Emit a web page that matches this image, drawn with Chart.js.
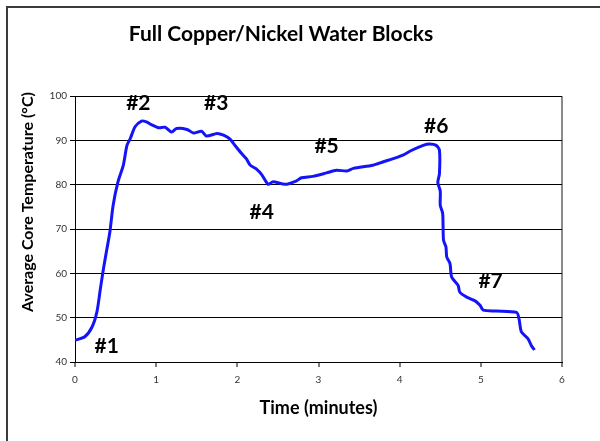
<!DOCTYPE html>
<html>
<head>
<meta charset="utf-8">
<script src="https://cdn.jsdelivr.net/npm/chart.js@4"></script>
<style>
  html, body { margin:0; padding:0; background:#fff; }
  #wrap { position:relative; width:600px; height:441px; }
  #frame {
    position:absolute; left:6px; top:6px; right:-4px; bottom:-4px;
    border-left:2px solid #3c3c3c; border-top:2px solid #3c3c3c;
    pointer-events:none;
  }
</style>
</head>
<body>
<div id="wrap">
  <canvas id="tempChart" width="600" height="441"></canvas>
  <div id="frame"></div>
</div>
<script>

// Time (minutes) and average core temperature (°C)

const timeValues = [
    0, 0.12, 0.21, 0.27, 0.31, 0.35, 0.39, 0.43, 0.47, 0.53,
    0.595, 0.64, 0.68, 0.74, 0.82, 0.88, 0.94, 1.03, 1.11, 1.19,
    1.25, 1.38, 1.46, 1.56, 1.62, 1.75, 1.83, 1.91, 1.97, 2.05,
    2.11, 2.16, 2.24, 2.30, 2.38, 2.44, 2.59, 2.73, 2.79, 2.93,
    3.10, 3.22, 3.35, 3.43, 3.67, 3.80, 3.92, 4.04, 4.15, 4.29,
    4.37, 4.45, 4.49, 4.49, 4.47, 4.50, 4.50, 4.53, 4.54, 4.57,
    4.58, 4.62, 4.64, 4.72, 4.74, 4.82, 4.93, 4.99, 5.03, 5.19,
    5.44, 5.47, 5.50, 5.58, 5.62, 5.66
];

const tempValues = [
    44.9, 45.7, 47.9, 51.3, 56.2, 61.0, 65.2, 69.4, 75.4, 80.7,
    84.4, 88.9, 90.4, 93.1, 94.4, 94.2, 93.6, 92.9, 93.0, 91.9,
    92.7, 92.5, 91.7, 92.1, 91.0, 91.6, 91.2, 90.3, 88.9, 87.1,
    85.9, 84.4, 83.5, 82.3, 80.1, 80.7, 80.1, 80.9, 81.6, 81.9,
    82.7, 83.3, 83.1, 83.7, 84.4, 85.2, 85.9, 86.7, 87.8, 88.9,
    89.2, 88.9, 87.8, 82.5, 80.5, 78.6, 75.4, 73.5, 67.5, 66.0,
    63.7, 62.2, 59.2, 57.3, 55.8, 54.7, 53.8, 52.8, 51.7, 51.5,
    51.2, 49.8, 46.8, 45.3, 43.8, 42.7
];

// Phase markers (#1..#7) placed in data units

const markerLabels = ["#1", "#2", "#3", "#4", "#5", "#6", "#7"];
const markerTimes  = [0.39, 0.78, 1.74, 2.30, 3.10, 4.45, 5.12];
const markerTemps  = [43.6, 98.4, 98.4, 73.8, 88.7, 93.2, 58.2];

const xTicks = [0, 1, 2, 3, 4, 5, 6];
const yTicks = [40, 50, 60, 70, 80, 90, 100];

const FONT = "Lato, 'Open Sans', sans-serif";

const markerPlugin = {
    id: "markers",
    afterDatasetsDraw(chart){
        const ctx = chart.ctx;
        const xs = chart.scales.x;
        const ys = chart.scales.y;
        ctx.save();
        ctx.font = "bold 21px " + FONT;
        ctx.fillStyle = "#000";
        ctx.textAlign = "center";
        ctx.textBaseline = "middle";
        markerLabels.forEach((t, i) => {
            ctx.fillText(
                t,
                xs.getPixelForValue(markerTimes[i]),
                ys.getPixelForValue(markerTemps[i])
            );
        });
        ctx.restore();
    },
    afterDraw(chart){
        // y axis title sits a bit above the plot middle, as in the original
        const ctx = chart.ctx;
        ctx.save();
        ctx.translate(28, 202);
        ctx.rotate(-Math.PI / 2);
        ctx.font = "bold 16px " + FONT;
        ctx.fillStyle = "#000";
        ctx.textAlign = "center";
        ctx.textBaseline = "middle";
        ctx.fillText("Average Core Temperature (°C)", 0, 0);
        ctx.restore();
    }
};

new Chart(

    document.getElementById("tempChart"),

    {
        type: "line",

        data: {
            datasets: [{
                label: "Core temperature",
                data: timeValues.map((t, i) => ({ x: t, y: tempValues[i] })),
                borderColor: "#1414F8",
                borderWidth: 3,
                pointRadius: 0,
                tension: 0.25,
                fill: false
            }]
        },

        plugins: [markerPlugin],

        options: {
            responsive: false,
            animation: false,
            layout: {
                padding: { left: 0, right: 38, top: 0, bottom: 0 }
            },
            plugins: {
                legend: { display: false },
                tooltip: { enabled: false },
                title: {
                    display: true,
                    text: "Full Copper/Nickel Water Blocks",
                    color: "#000",
                    font: { family: FONT, size: 21, weight: "bold" },
                    padding: { top: 22, bottom: 49 }
                }
            },
            scales: {
                x: {
                    type: "linear",
                    min: 0,
                    max: 6,
                    afterBuildTicks: s => { s.ticks = xTicks.map(v => ({ value: v })); },
                    afterFit: s => { s.height = 79; },
                    grid: {
                        drawOnChartArea: true,
                        color: c => c.tick && c.tick.value === 6 ? "#8a8a8a" : "rgba(0,0,0,0)",
                        lineWidth: 2,
                        tickColor: "#000",
                        tickLength: 5,
                        tickWidth: 1
                    },
                    border: { color: "#000", width: 1 },
                    ticks: {
                        color: "#333",
                        padding: 7,
                        maxRotation: 0,
                        font: { family: FONT, size: 10 }
                    },
                    title: {
                        display: true,
                        text: "Time (minutes)",
                        color: "#000",
                        font: { family: FONT, size: 18, weight: "bold" },
                        padding: { top: 0, bottom: 22 }
                    }
                },
                y: {
                    min: 40,
                    max: 100,
                    afterBuildTicks: s => { s.ticks = yTicks.map(v => ({ value: v })); },
                    afterFit: s => { s.width = 75; },
                    grid: {
                        color: "#000",
                        lineWidth: 1,
                        tickLength: 5
                    },
                    border: { color: "#000", width: 1 },
                    ticks: {
                        color: "#333",
                        padding: 3,
                        font: { family: FONT, size: 10 }
                    },
                    title: { display: false }
                }
            }
        }
    }
);

</script>
</body>
</html>
